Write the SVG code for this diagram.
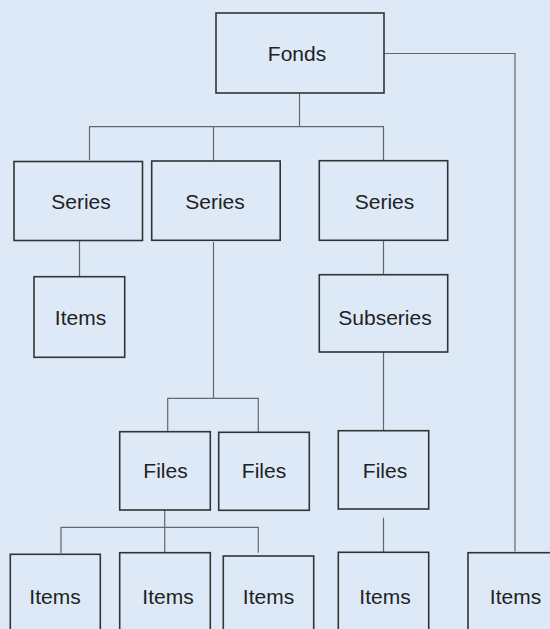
<svg xmlns="http://www.w3.org/2000/svg" width="550" height="629" viewBox="0 0 550 629">
<style>
.box{fill:#dde9f7;stroke:#333;stroke-width:1.6}
.lbl{font-family:"Liberation Sans",Arial,sans-serif;font-size:21px;fill:#222;text-anchor:middle}
.con{fill:none;stroke:#666;stroke-width:1.2}
</style>
<rect x="0" y="0" width="550" height="629" fill="#dde9f7"/>
<g id="connectors">
<path class="con" d="M384 53.5H515V551.5"/>
<path class="con" d="M299.5 93V127"/>
<path class="con" d="M89.5 160V126.7H383.5V161"/>
<path class="con" d="M213.5 126.7V161"/>
<path class="con" d="M79.5 241V277"/>
<path class="con" d="M213.5 242V398.3"/>
<path class="con" d="M167.7 431.5V398.3H258.3V432"/>
<path class="con" d="M383.5 240.5V275"/>
<path class="con" d="M383.5 352V431"/>
<path class="con" d="M164.7 510V553"/>
<path class="con" d="M61 553V527.3H258.3V552.7"/>
<path class="con" d="M383.5 517.7V552.5"/>
</g>
<g id="fonds"><rect class="box" x="216" y="13" width="168" height="80"/><text class="lbl" x="297" y="60.5">Fonds</text></g>
<g id="series1"><rect class="box" x="14" y="161.5" width="128.5" height="79"/><text class="lbl" x="81" y="208.5">Series</text></g>
<g id="series2"><rect class="box" x="151.7" y="161" width="128.5" height="79.3"/><text class="lbl" x="215" y="208.5">Series</text></g>
<g id="series3"><rect class="box" x="319.3" y="160.7" width="128.4" height="79.6"/><text class="lbl" x="384.5" y="208.5">Series</text></g>
<g id="items1"><rect class="box" x="34" y="276.7" width="90.7" height="80.6"/><text class="lbl" x="80.5" y="325">Items</text></g>
<g id="subseries"><rect class="box" x="319.3" y="274.7" width="128.4" height="77.3"/><text class="lbl" x="385" y="325">Subseries</text></g>
<g id="files1"><rect class="box" x="119.7" y="431.7" width="90.6" height="78.3"/><text class="lbl" x="165.5" y="478">Files</text></g>
<g id="files2"><rect class="box" x="218.7" y="432.3" width="90.6" height="78"/><text class="lbl" x="264" y="478">Files</text></g>
<g id="files3"><rect class="box" x="338.3" y="430.7" width="90.4" height="78.3"/><text class="lbl" x="385" y="477.5">Files</text></g>
<g id="items2"><rect class="box" x="10.3" y="554.3" width="90" height="82"/><text class="lbl" x="55" y="604">Items</text></g>
<g id="items3"><rect class="box" x="119.7" y="552.7" width="90.6" height="84"/><text class="lbl" x="168" y="604">Items</text></g>
<g id="items4"><rect class="box" x="223.3" y="556" width="90.4" height="80"/><text class="lbl" x="268.5" y="604">Items</text></g>
<g id="items5"><rect class="box" x="338.3" y="552.3" width="90.4" height="84"/><text class="lbl" x="385" y="604">Items</text></g>
<g id="items6"><rect class="box" x="468" y="552.7" width="92" height="84"/><text class="lbl" x="515.5" y="604">Items</text></g>
</svg>
